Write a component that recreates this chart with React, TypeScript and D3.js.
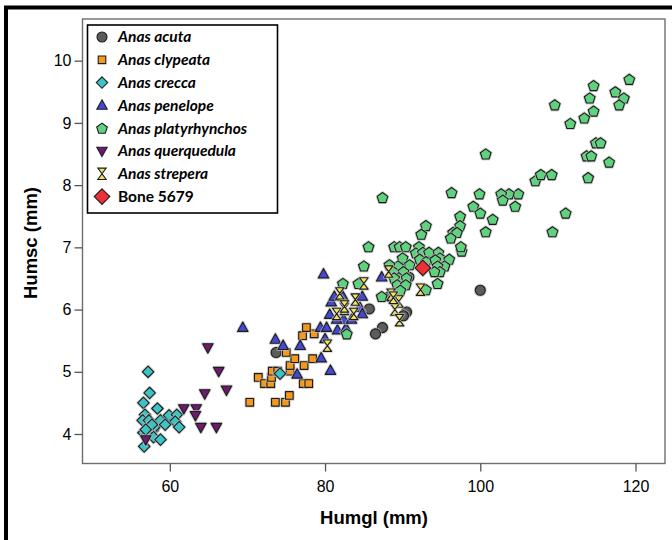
import React, { useRef, useEffect } from "react";
import * as d3 from "d3";

// Humgl (x) / Humsc (y), mm
const acuta: [number, number][] = [
  [73.7, 5.31], [85.7, 6.01], [87.4, 5.71], [86.5, 5.61], [90.5, 5.96],
  [90.1, 5.9], [90.8, 6.52], [100.0, 6.31], [88.3, 6.21], [58.0, 4.1],
];

const clypeata: [number, number][] = [
  [70.3, 4.51], [73.6, 4.51], [74.9, 4.51], [75.4, 4.62], [71.4, 4.91],
  [72.2, 4.81], [73.0, 4.81], [73.1, 4.91], [73.2, 5.01], [73.9, 5.01],
  [75.5, 5.01], [75.5, 5.1], [76.1, 5.21], [75.0, 5.31], [77.3, 5.1],
  [78.4, 5.21], [77.2, 4.81], [77.9, 4.81], [78.6, 5.61], [77.1, 5.58],
  [77.6, 5.71],
];

const crecca: [number, number][] = [
  [57.2, 5.0], [57.4, 4.66], [56.6, 4.5], [58.4, 4.41], [56.8, 4.31],
  [56.5, 4.22], [57.3, 4.22], [58.8, 4.22], [59.9, 4.3], [60.9, 4.31],
  [60.7, 4.2], [61.2, 4.11], [58.0, 4.11], [57.4, 4.12], [56.6, 4.02],
  [57.1, 3.99], [57.9, 3.95], [58.8, 3.91], [56.7, 3.8], [74.2, 4.97],
  [57.7, 4.15], [56.9, 4.07], [59.4, 4.15],
];

const penelope: [number, number][] = [
  [69.4, 5.71], [73.6, 5.52], [74.6, 5.42], [76.8, 5.42], [79.5, 5.22],
  [76.4, 4.96], [80.7, 5.02], [80.0, 5.53], [79.4, 5.71], [80.2, 5.71],
  [81.6, 5.67], [82.7, 5.7], [79.8, 6.57], [80.6, 5.92], [80.8, 6.12],
  [81.2, 6.21], [82.3, 6.21], [82.4, 5.84], [81.5, 5.84], [83.4, 5.84],
  [84.5, 6.03], [84.8, 5.93], [84.8, 6.21], [87.3, 6.52],
];

const platyrhynchos: [number, number][] = [
  [119.2, 9.7], [114.6, 9.6], [117.4, 9.5], [118.5, 9.4], [117.9, 9.29],
  [114.1, 9.4], [114.6, 9.19], [109.6, 9.29], [113.4, 9.08], [111.6, 8.99],
  [114.9, 8.68], [115.5, 8.68], [113.7, 8.47], [114.3, 8.47], [116.6, 8.37],
  [113.9, 8.12], [100.7, 8.5], [111.0, 7.55], [109.3, 7.25], [107.1, 8.07],
  [107.8, 8.17], [109.2, 8.17], [104.9, 7.86], [103.7, 7.86], [102.7, 7.86],
  [102.9, 7.76], [104.5, 7.66], [99.9, 7.86], [96.3, 7.88], [99.1, 7.66],
  [100.0, 7.55], [101.6, 7.45], [97.4, 7.5], [97.4, 7.35], [96.5, 7.24],
  [97.0, 7.24], [96.2, 7.15], [100.7, 7.25], [97.6, 6.94],
  [87.4, 7.8], [93.0, 7.35], [92.4, 7.21], [97.5, 7.01], [85.6, 7.01],
  [88.9, 7.01], [89.6, 7.01], [90.4, 7.01], [92.1, 7.01], [85.0, 6.7],
  [82.3, 6.42], [84.3, 6.42], [87.3, 6.21], [82.8, 5.61],
  [91.7, 6.91], [92.6, 6.92], [93.4, 6.92], [94.6, 6.92], [94.8, 6.83],
  [96.0, 6.81], [90.0, 6.83], [90.9, 6.72], [92.2, 6.81], [93.0, 6.77],
  [94.2, 6.8], [95.4, 6.7], [94.5, 6.7], [94.8, 6.61], [94.1, 6.61],
  [89.4, 6.7], [88.3, 6.72], [88.8, 6.61], [90.1, 6.61], [89.5, 6.51],
  [90.5, 6.51], [88.9, 6.51], [89.3, 6.4], [90.4, 6.4], [89.7, 6.31],
  [93.0, 6.32], [94.5, 6.42],
];

const querquedula: [number, number][] = [
  [64.9, 5.39], [66.3, 5.01], [67.3, 4.71], [64.5, 4.65], [61.8, 4.41],
  [63.4, 4.41], [63.3, 4.3], [64.0, 4.11], [66.0, 4.11], [56.9, 3.91],
];

const strepera: [number, number][] = [
  [80.3, 5.42], [85.0, 6.42], [81.9, 6.26], [83.9, 6.16], [82.5, 6.01],
  [83.7, 5.93], [81.5, 5.93], [88.2, 6.61], [88.5, 6.24], [89.5, 6.13],
  [89.0, 6.0], [89.6, 5.83], [92.3, 6.32], [88.8, 6.19], [82.5, 6.05],
];

const bone5679: [number, number][] = [[92.6, 6.67]];

const xTicks = [60, 80, 100, 120];
const yTicks = [4, 5, 6, 7, 8, 9, 10];

type Shape = "circle" | "square" | "diamond" | "triUp" | "pentagon" | "triDown" | "hourglass" | "bigDiamond";

const seriesList: { name: string; italic: boolean; shape: Shape; fill: string; data: [number, number][] }[] = [
  { name: "Anas acuta", italic: true, shape: "circle", fill: "#5c5c5c", data: acuta },
  { name: "Anas clypeata", italic: true, shape: "square", fill: "#f39a1e", data: clypeata },
  { name: "Anas crecca", italic: true, shape: "diamond", fill: "#3cc3c3", data: crecca },
  { name: "Anas penelope", italic: true, shape: "triUp", fill: "#4448d4", data: penelope },
  { name: "Anas platyrhynchos", italic: true, shape: "pentagon", fill: "#5fd27e", data: platyrhynchos },
  { name: "Anas querquedula", italic: true, shape: "triDown", fill: "#6e1a6e", data: querquedula },
  { name: "Anas strepera", italic: true, shape: "hourglass", fill: "#f2e461", data: strepera },
  { name: "Bone 5679", italic: false, shape: "bigDiamond", fill: "#ee2f35", data: bone5679 },
];

function shapePath(shape: Shape): string {
  const p = d3.path();
  if (shape === "circle") {
    p.arc(0, 0, 5, 0, Math.PI * 2);
  } else if (shape === "square") {
    p.rect(-3.8, -3.8, 7.6, 7.6);
  } else if (shape === "diamond" || shape === "bigDiamond") {
    const r = shape === "diamond" ? 5.7 : 7.8;
    p.moveTo(0, -r); p.lineTo(r, 0); p.lineTo(0, r); p.lineTo(-r, 0);
  } else if (shape === "triUp") {
    p.moveTo(0, -5.6); p.lineTo(5.2, 3.8); p.lineTo(-5.2, 3.8);
  } else if (shape === "triDown") {
    p.moveTo(0, 5.6); p.lineTo(5.2, -3.8); p.lineTo(-5.2, -3.8);
  } else if (shape === "pentagon") {
    for (let i = 0; i < 5; i++) {
      const a = -Math.PI / 2 + (i * 2 * Math.PI) / 5;
      const x = 5.6 * Math.cos(a), y = 5.6 * Math.sin(a) + 0.5;
      if (i === 0) p.moveTo(x, y); else p.lineTo(x, y);
    }
  } else if (shape === "hourglass") {
    p.moveTo(-4.2, -5.7); p.lineTo(4.2, -5.7); p.lineTo(-4.2, 5.7); p.lineTo(4.2, 5.7);
  }
  p.closePath();
  return p.toString();
}

const W = 672;
const H = 540;
const left = 82.5, right = 665, top = 19, bottom = 463.5;

export default function App() {
  const svgRef = useRef<SVGSVGElement>(null);

  useEffect(() => {
    if (!svgRef.current) return;
    const svg = d3.select(svgRef.current);
    svg.selectAll("*").remove();

    const x = d3.scaleLinear().domain([48.75, 123.8]).range([left, right]);
    const y = d3.scaleLinear().domain([3.526, 10.67]).range([bottom, top]);

    svg.append("rect").attr("width", W).attr("height", H).attr("fill", "#fff");

    // outer black border (top and left)
    svg.append("path")
      .attr("d", `M6,${H} V7.5 H${W}`)
      .attr("fill", "none").attr("stroke", "#000").attr("stroke-width", 4);

    // plot frame
    svg.append("rect")
      .attr("x", left).attr("y", top)
      .attr("width", right - left).attr("height", bottom - top)
      .attr("fill", "#fff").attr("stroke", "#6e6e6e").attr("stroke-width", 1.4);

    const xAxis = svg.append("g").attr("transform", `translate(0,${bottom})`)
      .call(d3.axisBottom(x).tickValues(xTicks).tickSize(8).tickPadding(9));
    const yAxis = svg.append("g").attr("transform", `translate(${left},0)`)
      .call(d3.axisLeft(y).tickValues(yTicks).tickSize(8).tickPadding(3));
    [xAxis, yAxis].forEach((g) => {
      g.select(".domain").remove();
      g.selectAll(".tick line").attr("stroke", "#555").attr("stroke-width", 1.3);
      g.selectAll(".tick text")
        .attr("fill", "#000")
        .style("font-family", "'Liberation Sans', Arial, sans-serif")
        .style("font-size", "16px");
    });

    svg.append("text")
      .attr("x", 374).attr("y", 524)
      .attr("text-anchor", "middle")
      .style("font-family", "'Liberation Sans', Arial, sans-serif")
      .style("font-size", "18.5px").style("font-weight", "bold")
      .text("Humgl (mm)");

    svg.append("text")
      .attr("transform", "translate(37,243) rotate(-90)")
      .attr("text-anchor", "middle")
      .style("font-family", "'Liberation Sans', Arial, sans-serif")
      .style("font-size", "18.5px").style("font-weight", "bold")
      .text("Humsc (mm)");

    // points (soft grey halo under each mark, then the mark)
    const pts = svg.append("g");
    seriesList.forEach((s) => {
      const d = shapePath(s.shape);
      const g = pts.append("g");
      s.data.forEach(([vx, vy]) => {
        const t = `translate(${x(vx)},${y(vy)})`;
        g.append("path")
          .attr("d", d).attr("transform", t)
          .attr("fill", "none").attr("stroke", "#bdbdbd")
          .attr("stroke-width", 3).attr("stroke-linejoin", "round")
          .attr("opacity", 0.7);
        g.append("path")
          .attr("d", d).attr("transform", t)
          .attr("fill", s.fill)
          .attr("stroke", "#1c1c1c")
          .attr("stroke-width", 1.1)
          .attr("stroke-linejoin", "round");
      });
    });

    // legend
    const lg = svg.append("g");
    lg.append("rect")
      .attr("x", 87.5).attr("y", 25)
      .attr("width", 190).attr("height", 188)
      .attr("fill", "#fff").attr("stroke", "#000").attr("stroke-width", 1.6);
    seriesList.forEach((s, i) => {
      const cy = 37 + i * 22.8;
      lg.append("path")
        .attr("d", shapePath(s.shape))
        .attr("transform", `translate(102,${cy})`)
        .attr("fill", s.fill)
        .attr("stroke", "#1c1c1c")
        .attr("stroke-width", 1.1);
      lg.append("text")
        .attr("x", 118).attr("y", cy)
        .attr("dy", "0.35em")
        .style("font-family", "Lato, 'Open Sans', sans-serif")
        .style("font-size", "15.5px")
        .style("font-weight", "bold")
        .style("font-style", s.italic ? "italic" : "normal")
        .text(s.name);
    });
  }, []);

  return (
    <svg
      ref={svgRef}
      width={W}
      height={H}
      style={{ position: "absolute", left: 0, top: 0 }}
    />
  );
}
